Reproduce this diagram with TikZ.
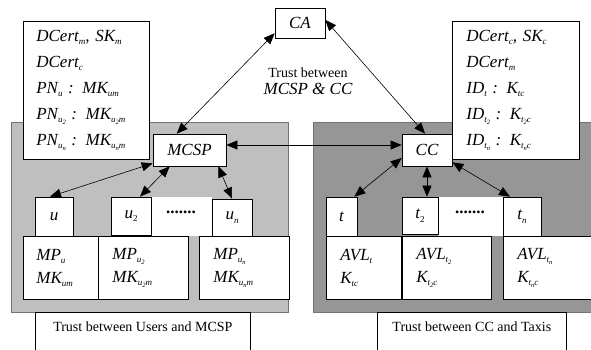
\documentclass[tikz,border=0pt]{standalone}
\usepackage{fontspec}
\setmainfont{Liberation Serif}
\usetikzlibrary{arrows.meta,calc}
\newcommand{\sbs}[1]{\raisebox{-0.45ex}{\fontsize{9}{9}\selectfont\itshape #1}}
\newcommand{\ssb}[1]{\raisebox{-0.4ex}{\fontsize{6.5}{6.5}\selectfont #1}}
\begin{document}
\begin{tikzpicture}[x=1pt,y=-1pt,
  box/.style={draw=black, fill=white, line width=0.7pt, inner sep=0pt, anchor=north west},
  panel/.style={draw=black!55, line width=0.7pt},
  arr/.style={{Triangle[length=11pt,width=9pt]}-{Triangle[length=11pt,width=9pt]}, line width=0.6pt},
  big/.style={font=\fontsize{17}{20}\selectfont\itshape},
  plain/.style={font=\fontsize{14}{16}\selectfont}]
\useasboundingbox (0,0) rectangle (591,349);
% panels
\fill[black!25] (11,122) rectangle (288,312);
\draw[panel] (11,122) rectangle (288,312);
\fill[black!41] (313,122) rectangle (595,312);
\draw[panel] (595,122) -- (313,122) -- (313,312) -- (595,312);
% top boxes
\node[box, minimum width=126, minimum height=138, text width=100, inner xsep=13, align=left,
      font=\fontsize{17}{26}\selectfont\itshape] (lk) at (23,21)
  {DCert\sbs{m}, SK\sbs{m}\\
   DCert\sbs{c}\\
   PN\sbs{u} : MK\sbs{um}\\
   PN\sbs{u\ssb{2}} : MK\sbs{u\ssb{2}m}\\
   PN\sbs{u\ssb{n}} : MK\sbs{u\ssb{n}m}};
\node[box, minimum width=127, minimum height=138, text width=99, inner xsep=14, align=left,
      font=\fontsize{17}{26}\selectfont\itshape] (rk) at (452,21)
  {DCert\sbs{c}, SK\sbs{c}\\
   DCert\sbs{m}\\
   ID\sbs{t} : K\sbs{tc}\\
   ID\sbs{t\ssb{2}} : K\sbs{t\ssb{2}c}\\
   ID\sbs{t\ssb{n}} : K\sbs{t\ssb{n}c}};
\node[box, big, minimum width=50, minimum height=30, anchor=center] (ca) at (300,23) {CA};
\node[box, big, minimum width=73, minimum height=32, anchor=center] (mcsp) at (189.5,150) {MCSP};
\node[box, big, minimum width=50, minimum height=32, anchor=center] (cc) at (427,150) {CC};
\node[plain] (tb) at (308,73) {Trust between};
\node[big] (tm) at (308,89) {MCSP \& CC};
% white bands
\fill[white] (151,197) rectangle (212,236);
\fill[white] (438,197) rectangle (503,236);
\node[font=\fontsize{17}{20}\selectfont\bfseries] (d1) at (181,212) {.......};
\node[font=\fontsize{17}{20}\selectfont\bfseries] (d2) at (470,212) {.......};
% user side
\node[box, big, minimum width=38, minimum height=39, anchor=center] (u) at (54,216.5) {u};
\node[box, big, minimum width=40, minimum height=38, anchor=center] (u2) at (131,216) {u\sbs{\upshape 2}};
\node[box, big, minimum width=40, minimum height=37, anchor=center] (un) at (232,217.5) {u\sbs{n}};
\node[box, minimum width=63, minimum height=63, text width=50, inner xsep=13, align=left,
      font=\fontsize{17}{23}\selectfont\itshape] (mu) at (23,236)
  {MP\sbs{u}\\MK\sbs{um}\\[-4pt]};
\node[box, minimum width=76, minimum height=63, text width=62, inner xsep=14, align=left,
      font=\fontsize{17}{23}\selectfont\itshape] (mu2) at (98,236)
  {MP\sbs{u\ssb{2}}\\MK\sbs{u\ssb{2}m}\\[-4pt]};
\node[box, minimum width=76, minimum height=63, text width=62, inner xsep=14, align=left,
      font=\fontsize{17}{23}\selectfont\itshape] (mun) at (199,236)
  {MP\sbs{u\ssb{n}}\\MK\sbs{u\ssb{n}m}\\[-4pt]};
% taxi side
\node[box, big, minimum width=31, minimum height=39, anchor=center] (t) at (341.5,216.5) {t};
\node[box, big, minimum width=36, minimum height=37, anchor=center] (t2) at (420,215.5) {t\sbs{\upshape 2}};
\node[box, big, minimum width=38, minimum height=39, anchor=center] (tn) at (522,216.5) {t\sbs{n}};
\node[box, minimum width=61, minimum height=63, text width=47, inner xsep=14, align=left,
      font=\fontsize{17}{23}\selectfont\itshape] (at) at (326,236)
  {AVL\sbs{t}\\K\sbs{tc}\\[-4pt]};
\node[box, minimum width=75, minimum height=63, text width=61, inner xsep=14, align=left,
      font=\fontsize{17}{23}\selectfont\itshape] (at2) at (402,236)
  {AVL\sbs{t\ssb{2}}\\K\sbs{t\ssb{2}c}\\[-4pt]};
\node[box, minimum width=76, minimum height=63, text width=62, inner xsep=14, align=left,
      font=\fontsize{17}{23}\selectfont\itshape] (atn) at (503,236)
  {AVL\sbs{t\ssb{n}}\\K\sbs{t\ssb{n}c}\\[-4pt]};
% bottom label boxes
\node[box, minimum width=215, minimum height=45] (lb) at (35,312) {};
\node[plain] (lbt) at ($(lb.north)+(0,15)$) {Trust between Users and MCSP};
\node[box, minimum width=189, minimum height=45] (rb) at (377,312) {};
\node[plain] (rbt) at ($(rb.north)+(0,15)$) {Trust between CC and Taxis};
% connectors
\draw[arr] (ca.202) -- (mcsp.128);
\draw[arr] (ca.7) -- (cc.97);
\draw[arr] ([yshift=5pt]mcsp.east) -- ([yshift=5pt]cc.west);
\draw[arr] ([yshift=3pt]mcsp.south west) -- ([xshift=-4pt]u.north);
\draw[arr] ([xshift=17pt]mcsp.south west) -- ([xshift=9pt]u2.north);
\draw[arr] ([xshift=-8pt]mcsp.south east) -- (un.north);
\draw[arr] ([yshift=-8pt]cc.west) -- ([xshift=-3pt]t.north east);
\draw[arr] (cc.south) -- (cc.south |- t2.north);
\draw[arr] ([yshift=4pt]cc.south east) -- ([xshift=-12pt]tn.north);
\end{tikzpicture}
\end{document}
